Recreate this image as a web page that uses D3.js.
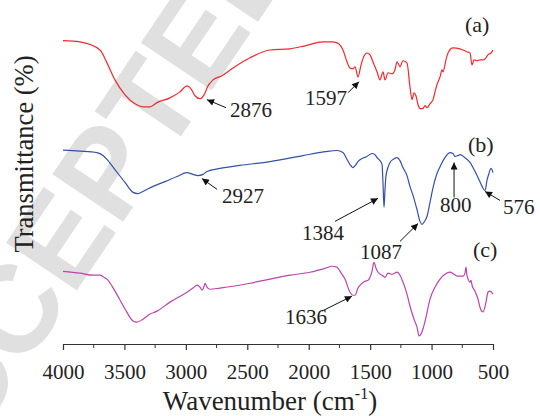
<!DOCTYPE html>
<html>
<head>
<meta charset="utf-8">
<script src="https://cdnjs.cloudflare.com/ajax/libs/d3/7.8.5/d3.min.js"></script>
<style>
body{margin:0;background:#fff}
svg{display:block}
svg text{font-family:"Liberation Serif","Times New Roman",Times,serif}
svg text.mark{font-family:"Liberation Sans",Arial,sans-serif}
</style>
</head>
<body>
<div id="chart"></div>
<script>
// ftir spectra (arbitrary transmittance units, curves are offset)
var wnA = [4000,3862,3699,3642,3577,3495,3414,3349,3292,3235,3129,3048,2991,2958,2926,2885,2852,2820,2779,2706,2616,2478,2315,2152,2030,1884,1810,1770,1721,1688,1664,1640,1623,1599,1574,1550,1526,1501,1477,1444,1420,1403,1395,1379,1355,1322,1298,1281,1257,1233,1200,1176,1159,1143,1127,1110,1094,1070,1053,1037,1013,988,972,956,931,915,907,883,866,826,769,712,687,671,655,630,606,581,557,541,516,500];
var trA = [101.4,101.0,98.3,94.0,88.3,83.3,80.3,79.3,79.3,80.7,82.3,84.3,86.3,85.3,83.0,82.0,83.3,86.3,88.3,89.7,92.3,95.7,98.3,98.7,99.7,101.0,101.0,100.7,98.3,94.3,92.3,92.0,92.7,89.3,93.3,96.3,97.3,96.7,94.3,91.0,88.3,90.3,91.0,88.3,90.7,90.3,91.7,94.3,92.7,94.7,94.0,86.0,81.7,84.0,83.0,80.0,78.7,78.7,79.7,79.0,80.3,81.7,84.3,86.7,89.3,91.7,91.0,95.0,97.3,99.0,98.7,97.7,97.3,93.3,95.0,94.7,95.0,95.0,95.7,96.7,97.3,98.3];

var wnB = [4000,3862,3723,3674,3642,3577,3495,3430,3390,3349,3267,3170,3072,2991,2942,2901,2860,2828,2722,2559,2315,2047,1867,1770,1721,1688,1664,1640,1615,1599,1566,1526,1485,1460,1444,1420,1403,1395,1387,1379,1371,1355,1338,1314,1281,1257,1233,1200,1176,1151,1119,1094,1078,1062,1037,1013,988,956,931,891,850,826,809,785,769,728,687,663,622,589,565,549,533,516,500];
var trB = [64.8,64.5,64.0,63.0,61.7,58.3,54.0,50.7,50.3,51.0,52.7,54.3,56.0,57.3,56.7,56.3,56.7,57.7,58.7,59.7,61.0,63.0,64.3,64.7,64.0,61.7,60.0,59.0,60.0,61.0,62.0,62.7,63.7,63.3,62.3,61.3,60.0,53.3,45.7,51.7,56.3,59.0,60.7,61.7,62.3,61.3,59.0,56.3,52.7,49.7,45.0,41.0,40.0,40.7,42.7,47.3,52.3,57.0,59.3,62.3,64.0,63.7,62.7,63.0,63.3,62.3,60.7,59.0,55.7,52.7,51.3,54.7,57.0,58.7,57.3];

var wnC = [4000,3862,3756,3699,3666,3642,3577,3495,3430,3398,3349,3292,3235,3129,2991,2942,2909,2885,2869,2852,2844,2828,2803,2722,2616,2478,2315,2152,1990,1867,1810,1770,1745,1705,1664,1640,1623,1599,1574,1542,1517,1501,1485,1469,1452,1436,1403,1379,1355,1322,1281,1257,1233,1200,1176,1143,1119,1102,1086,1070,1045,1013,972,931,891,850,817,793,744,728,720,712,703,687,679,671,647,622,606,581,557,541,524,500];
var trC = [24.3,23.7,23.0,23.0,22.3,21.7,17.7,11.7,7.7,7.3,8.3,10.0,11.0,14.0,17.3,18.7,19.7,19.0,18.0,19.3,20.3,19.0,18.3,18.7,19.3,20.3,21.7,23.0,24.0,25.3,26.0,25.7,24.3,21.7,17.3,16.3,16.3,18.7,20.0,21.0,21.3,22.3,24.3,27.3,25.3,24.0,23.0,22.3,23.7,23.3,24.0,23.0,20.7,16.7,12.7,8.3,5.7,2.7,3.3,5.0,9.0,15.0,19.0,21.7,23.3,24.0,23.3,22.7,22.7,23.7,25.7,23.0,21.7,20.7,21.3,19.7,17.7,15.0,12.3,10.7,14.0,17.3,17.7,16.7];

var seriesNames = ["(a)", "(b)", "(c)"];
var seriesColors = ["#ee2a2e", "#3450a8", "#bb44ac"];
var xTicks = [4000, 3500, 3000, 2500, 2000, 1500, 1000, 500];

// peak labels: text, label anchor, arrow tail, arrow tip (wavenumber, transmittance)
var peakText = ["2876", "1597", "2927", "1384", "1087", "800", "576", "1636"];
var peakTextPos = [[2641,76],[2030,80],[2706,47.3],[2055,34.7],[1583,28.3],[931,44],[419,43.3],[2193,6.7]];
var peakTail = [[2673,79],[1680,84],[2746,51.7],[1786,41],[1257,34.3],[817,49],[443,48],[1892,11]];
var peakTip = [[2828,81.7],[1591,87.7],[2869,55.3],[1436,48.7],[1110,40.3],[817,60.7],[565,51],[1648,16]];
var namePos = [[728,104.3],[704,64.3],[663,29]];

var width = 540, height = 416;
var margin = {top: 15, right: 47, bottom: 71, left: 63};

var svg = d3.select("#chart").append("svg")
    .attr("width", width)
    .attr("height", height);

var x = d3.scaleLinear().domain([4000, 500]).range([margin.left, width - margin.right]);
var y = d3.scaleLinear().domain([0, 110]).range([height - margin.bottom - 1, margin.top]);

// faint watermark behind everything
svg.append("text")
    .attr("class", "mark")
    .attr("transform", "translate(-78,520) rotate(-56)")
    .style("font-size", "124px")
    .style("font-weight", "bold")
    .attr("fill", "#e0e0e0")
    .text("ACCEPTED");

svg.append("defs").append("marker")
    .attr("id", "head")
    .attr("viewBox", "0 0 10 10")
    .attr("refX", 10).attr("refY", 5)
    .attr("markerUnits", "userSpaceOnUse")
    .attr("markerWidth", 8).attr("markerHeight", 7)
    .attr("orient", "auto")
    .append("path")
    .attr("d", "M0,0L10,5L0,10z")
    .attr("fill", "#111");

var line = d3.line()
    .x(function(d){ return x(d[0]); })
    .y(function(d){ return y(d[1]); })
    .curve(d3.curveMonotoneX);

var curves = [d3.zip(wnA, trA), d3.zip(wnB, trB), d3.zip(wnC, trC)];

svg.selectAll(".spec")
    .data(curves)
    .enter().append("path")
    .attr("class", "spec")
    .attr("d", line)
    .attr("fill", "none")
    .attr("stroke", function(d, i){ return seriesColors[i]; })
    .attr("stroke-width", 1.2);

// x axis with minor ticks
var axisY = height - margin.bottom - 1;
var minor = d3.range(3750, 500, -500);
var gx = svg.append("g").attr("transform", "translate(0," + axisY + ")");
gx.call(d3.axisBottom(x).tickValues(xTicks).tickSize(6).tickSizeOuter(0).tickFormat(d3.format("d")));
gx.attr("font-family", null);
gx.selectAll(".minor")
    .data(minor)
    .enter().append("line")
    .attr("class", "minor")
    .attr("x1", function(d){ return x(d); })
    .attr("x2", function(d){ return x(d); })
    .attr("y1", 0).attr("y2", 4)
    .attr("stroke", "#333");
gx.select(".domain").attr("stroke", "#333").attr("stroke-width", 1.2);
gx.selectAll(".tick line").attr("stroke", "#333").attr("stroke-width", 1.2);
gx.selectAll(".tick text")
    .attr("y", 35).attr("dy", 0)
    .attr("fill", "#222")
    .style("font-size", "21px");

// axis titles
var xt = svg.append("text")
    .attr("x", 270).attr("y", 410)
    .attr("text-anchor", "middle")
    .attr("fill", "#222")
    .style("font-size", "27px");
xt.append("tspan").text("Wavenumber (cm");
xt.append("tspan").attr("dy", -11).style("font-size", "16px").text("-1");
xt.append("tspan").attr("dy", 11).text(")");

svg.append("text")
    .attr("transform", "translate(33,154) rotate(-90)")
    .attr("text-anchor", "middle")
    .attr("fill", "#222")
    .style("font-size", "26.5px")
    .text("Transmittance (%)");

// peak annotations
svg.selectAll(".arrow")
    .data(peakText)
    .enter().append("line")
    .attr("class", "arrow")
    .attr("x1", function(d, i){ return x(peakTail[i][0]); })
    .attr("y1", function(d, i){ return y(peakTail[i][1]); })
    .attr("x2", function(d, i){ return x(peakTip[i][0]); })
    .attr("y2", function(d, i){ return y(peakTip[i][1]); })
    .attr("stroke", "#111")
    .attr("stroke-width", 1)
    .attr("marker-end", "url(#head)");

svg.selectAll(".peak")
    .data(peakText)
    .enter().append("text")
    .attr("class", "peak")
    .attr("x", function(d, i){ return x(peakTextPos[i][0]); })
    .attr("y", function(d, i){ return y(peakTextPos[i][1]); })
    .attr("fill", "#222")
    .style("font-size", "21px")
    .text(function(d){ return d; });

svg.selectAll(".name")
    .data(seriesNames)
    .enter().append("text")
    .attr("class", "name")
    .attr("x", function(d, i){ return x(namePos[i][0]); })
    .attr("y", function(d, i){ return y(namePos[i][1]); })
    .attr("fill", "#222")
    .style("font-size", "22px")
    .text(function(d){ return d; });
</script>
</body>
</html>
